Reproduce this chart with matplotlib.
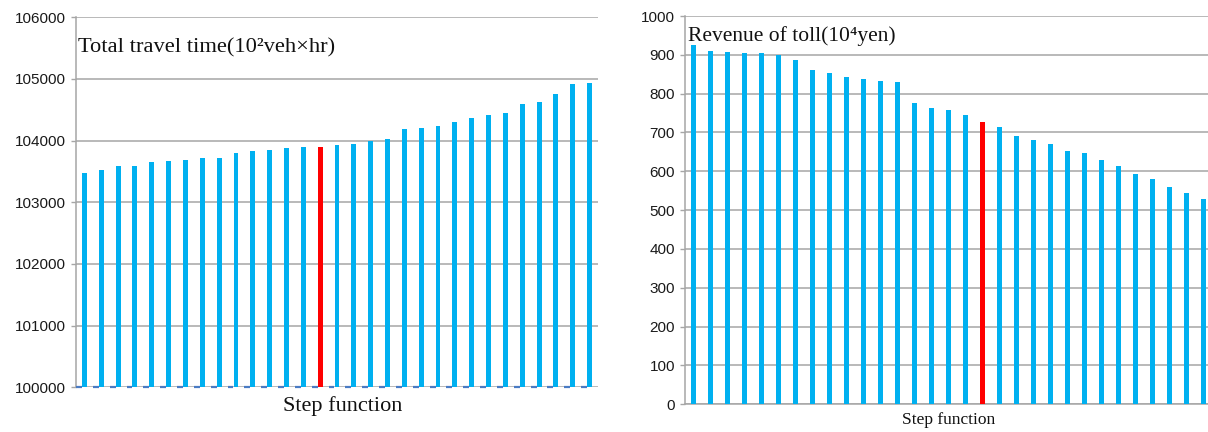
#IMPORT BLOCK===========================================================
import numpy as np
import matplotlib
matplotlib.use('Agg')
import matplotlib.pyplot as plt

#INPUT DATA=============================================================
# -- total travel time for each step function case (10^2 veh x hr)
travelTime = [
    103475, 103525, 103585, 103585, 103656, 103667, 103678, 103716,
    103721, 103792, 103836, 103847, 103880, 103891, 103896,
    103923, 103945, 103989, 104033, 104191, 104208, 104240, 104306,
    104372, 104415, 104454, 104596, 104623, 104760, 104913, 104929,
]
ttRed   = 14                                                            #highlighted case

# -- toll revenue for each step function case (10^4 yen)
revenue = [
    925, 910, 908, 906, 905, 899, 887, 860, 853, 844, 838, 833, 831,
    777, 764, 758, 744, 728, 715, 692, 681, 670, 653, 648, 630, 614,
    593, 580, 560, 545, 528,
]
revRed  = 17                                                            #highlighted case

ttTicks  = [100000, 101000, 102000, 103000, 104000, 105000, 106000]
revTicks = list(range(0, 1001, 100))

ttTitle  = 'Total travel time(10\u00b2veh\u00d7hr)'
revTitle = 'Revenue of toll(10\u2074yen)'
xLabel   = 'Step function'

#GRAPHICAL PARAMETERS===================================================
barCol  = '#00b0f0'
redCol  = '#ff0000'
grdCol  = '#a6a6a6'
dashCol = '#4a7bc4'
bW      = 0.29                                                          #bar width (category fraction)
serif   = ['Liberation Serif', 'DejaVu Serif']
sans    = ['Liberation Sans', 'DejaVu Sans']

fig = plt.figure(figsize=(12.08, 4.32), dpi=100, facecolor='w')

def styleAx(ax, ticks):
    """ common Excel-like axis styling """
    ax.set_yticks(ticks)
    ax.set_ylim(ticks[0], ticks[-1])
    ax.set_xticks([])
    ax.grid(True, axis='y', color=grdCol, lw=1.1)
    ax.set_axisbelow(True)
    for s in ['top', 'right']:
        ax.spines[s].set_visible(False)
    ax.spines['left'].set_color(grdCol)
    ax.spines['left'].set_linewidth(1.1)
    ax.tick_params(axis='y', length=3.6, width=1.0, color=grdCol, pad=3.6,
                   labelsize=11, labelcolor='#1a1a1a')
    for lbl in ax.get_yticklabels():
        lbl.set_family(sans)

#LEFT CHART - TOTAL TRAVEL TIME=========================================
ax1 = fig.add_axes([76/1208, 1-387.3/432, 522/1208, 370/432])
x1  = np.arange(len(travelTime))
c1  = [redCol if i == ttRed else barCol for i in x1]
ax1.bar(x1, np.array(travelTime)-ttTicks[0], bottom=ttTicks[0], width=bW,
        color=c1, zorder=3)
ax1.set_xlim(-0.5, len(travelTime)-0.5)
styleAx(ax1, ttTicks)
ax1.spines['bottom'].set_visible(False)
# -- small dark blue marks along the base line (second series)
ax1.hlines([ttTicks[0]]*len(x1), x1-0.5, x1-0.15, color=dashCol, lw=1.6,
           zorder=4, clip_on=False)
ax1.text(0.004, 0.905, ttTitle, transform=ax1.transAxes, family=serif,
         fontsize=16.2, ha='left', va='baseline', color='#111111')
ax1.text(0.51, -0.05, xLabel, transform=ax1.transAxes, family=serif,
         fontsize=16, ha='center', va='center', color='#111111')

#RIGHT CHART - TOLL REVENUE=============================================
ax2 = fig.add_axes([685/1208, 1-404.3/432, 527/1208, 388.3/432])
x2  = np.arange(len(revenue))
c2  = [redCol if i == revRed else barCol for i in x2]
ax2.bar(x2, revenue, width=bW, color=c2, zorder=3)
ax2.set_xlim(-0.5, len(revenue)-0.5)
styleAx(ax2, revTicks)
ax2.spines['bottom'].set_color(grdCol)
ax2.spines['bottom'].set_linewidth(1.1)
ax2.text(0.005, 1-24.5/388.3, revTitle, transform=ax2.transAxes, family=serif,
         fontsize=15.5, ha='left', va='baseline', color='#111111')
ax2.text(0.5, -0.04, xLabel, transform=ax2.transAxes, family=serif,
         fontsize=12.5, ha='center', va='center', color='#111111')

#SAVE===================================================================
plt.savefig('out.png', dpi=100)
